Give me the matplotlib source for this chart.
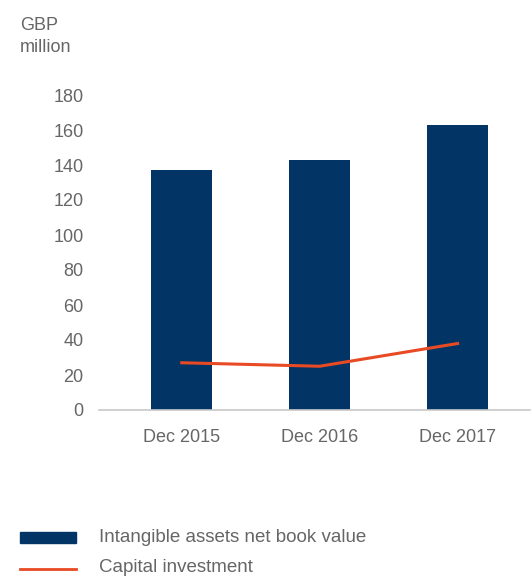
import matplotlib

matplotlib.use("Agg")
import matplotlib.pyplot as plt
from matplotlib.patches import Rectangle
from matplotlib.lines import Line2D

periods = ["Dec 2015", "Dec 2016", "Dec 2017"]
intangible_nbv = [137, 143, 163]
capital_investment = [27, 25, 38]
y_ticks = [0, 20, 40, 60, 80, 100, 120, 140, 160, 180]

NAVY = "#023565"
ORANGE = "#e84a24"
GREY = "#666666"

plt.rcParams["font.family"] = ["Liberation Sans", "DejaVu Sans"]

fig = plt.figure(figsize=(5.32, 5.77), dpi=100)
ax = fig.add_axes([99 / 532, 1 - 410 / 577, 431 / 532, 315 / 577])

x = list(range(len(periods)))
ax.bar(x, intangible_nbv, width=0.44, color=NAVY, zorder=2)
ax.plot(x, capital_investment, color=ORANGE, lw=2.2, zorder=3)

ax.set_xlim(-0.6, 2.525)
ax.set_ylim(0, 180)
ax.set_yticks(y_ticks)
ax.set_xticks(x)
ax.set_xticklabels(periods)
ax.tick_params(axis="both", length=0, labelsize=13, colors=GREY)
ax.tick_params(axis="y", pad=11)
ax.tick_params(axis="x", pad=14)
for side in ("top", "right", "left"):
    ax.spines[side].set_visible(False)
ax.spines["bottom"].set_color("#c8c8c8")
ax.spines["bottom"].set_linewidth(1.2)

fig.text(20 / 532, 1 - 26 / 577, "GBP", fontsize=13, color=GREY, va="center")
fig.text(20 / 532, 1 - 47 / 577, "million", fontsize=13, color=GREY, va="center")

# legend drawn by hand at the bottom left
fig.patches.append(Rectangle((20 / 532, 1 - 543 / 577), 56 / 532, 11 / 577,
                             transform=fig.transFigure, color=NAVY))
fig.lines.append(Line2D([20 / 532, 76 / 532], [1 - 568.5 / 577] * 2,
                        transform=fig.transFigure, color=ORANGE, lw=2))
fig.text(99 / 532, 1 - 537.5 / 577, "Intangible assets net book value",
         fontsize=13.5, color=GREY, va="center")
fig.text(99 / 532, 1 - 568 / 577, "Capital investment",
         fontsize=13.5, color=GREY, va="center")

fig.savefig("out.png", dpi=100)
